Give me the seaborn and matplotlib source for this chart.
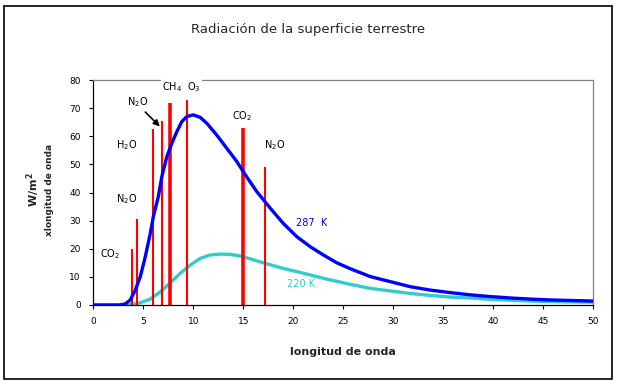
import matplotlib
matplotlib.use("Agg")
import matplotlib.pyplot as plt
import seaborn as sns
import pandas as pd
from matplotlib.patches import Rectangle

# ---- data ----
wl_287 = [0, 2.6, 3.2, 3.7, 4.2, 4.7, 5.2, 5.7, 6.0, 6.5, 6.85, 7.35, 7.85, 8.35, 8.85,
          9.35, 10.0, 10.7, 11.35, 12.35, 13.35, 14.35, 15.35, 16.35, 17.7, 19.0,
          20.35, 21.7, 23.0, 24.35, 25.7, 27.7, 29.7, 31.7, 33.7, 35.7, 37.7, 39.7,
          41.7, 43.7, 45.7, 50]
rad_287 = [0, 0, 0.4, 1.8, 5.3, 10.1, 17.2, 25.5, 31.4, 38.5, 45.6, 52.7, 57.5, 61.6, 65.2,
           67.0, 67.6, 66.7, 64.6, 60.4, 55.7, 51.0, 45.5, 40.3, 34.4, 29.0,
           24.3, 20.7, 17.8, 15.0, 12.9, 10.1, 8.3, 6.5, 5.3, 4.4, 3.6, 3.0,
           2.5, 2.1, 1.8, 1.4]
wl_220 = [0, 3.5, 4.7, 5.7, 6.7, 7.7, 8.7, 9.7, 10.7, 11.7, 12.7, 13.7, 14.7, 15.7, 17.0,
          19.0, 21.0, 23.0, 25.5, 27.7, 29.7, 31.7, 33.7, 35.7, 37.7, 39.7, 41.7, 43.7,
          47, 50]
rad_220 = [0, 0, 0.8, 2.1, 4.7, 7.9, 11.3, 14.2, 16.6, 17.8, 18.1, 18.0, 17.4, 16.4, 15.0,
           13.0, 11.3, 9.5, 7.5, 5.9, 5.0, 4.1, 3.4, 2.8, 2.5, 2.0, 1.7, 1.4,
           1.1, 1.0]
band_pos = [3.9, 4.35, 6.0, 6.9, 7.7, 9.35, 15.0, 17.2]
band_height = [20, 30.5, 62.5, 65.5, 72, 73, 63, 49]
band_width = [1.5, 1.5, 1.5, 1.5, 2.6, 1.5, 2.6, 1.5]

gas_labels = [r"CO$_2$", r"N$_2$O", r"H$_2$O", r"N$_2$O", r"CH$_4$  O$_3$", r"CO$_2$", r"N$_2$O"]
gas_x = [1.7, 3.3, 3.3, 4.4, 8.8, 14.85, 18.1]
gas_y = [18.1, 37.7, 56.9, 72.2, 77.5, 67, 56.9]

sns.set_theme(style="white")
plt.rcParams['font.family'] = ['DejaVu Sans']

fig = plt.figure(figsize=(6.17, 3.85), dpi=100)
ax = fig.add_axes([93.3 / 617, 1 - 305 / 385, 500 / 617, 225 / 385])

# red absorption bands
ax.vlines(band_pos, 0, band_height, colors="#FF0000", linewidths=band_width, zorder=2)

df287 = pd.DataFrame({"x": wl_287, "y": rad_287})
df220 = pd.DataFrame({"x": wl_220, "y": rad_220})
sns.lineplot(data=df220, x="x", y="y", ax=ax, color="#33CCCC", linewidth=2.4, zorder=1)
sns.lineplot(data=df287, x="x", y="y", ax=ax, color="#0000FF", linewidth=2.4, zorder=3)

ax.set_xlim(0, 50)
ax.set_ylim(0, 80)
ax.set_xticks(range(0, 51, 5))
ax.set_yticks(range(0, 81, 10))
ax.tick_params(axis="both", which="both", direction="out", length=3, width=0.8,
               labelsize=6.5, colors="black", bottom=True, left=True, pad=6)
for s in ["left", "bottom"]:
    ax.spines[s].set_color("black")
    ax.spines[s].set_linewidth(0.9)
for s in ["top", "right"]:
    ax.spines[s].set_color("#808080")
    ax.spines[s].set_linewidth(0.9)
ax.set_xlabel("")
ax.set_ylabel("")

# gas labels
for lbl, gx, gy in zip(gas_labels, gas_x, gas_y):
    bbox = None
    if "CH" in lbl:
        bbox = dict(facecolor="white", edgecolor="none", pad=1)
    ax.text(gx, gy, lbl, ha="center", va="center", fontsize=7, color="black",
            zorder=5, bbox=bbox, clip_on=False)

ax.annotate("", xy=(6.85, 62.8), xytext=(5.0, 69.3),
            arrowprops=dict(arrowstyle="-|>", color="black", lw=1.2, mutation_scale=9),
            zorder=6)

ax.text(21.8, 29.3, "287  K", ha="center", va="center", fontsize=7, color="#0000CC")
ax.text(20.8, 7.3, "220 K", ha="center", va="center", fontsize=7, color="#33CCCC")

# titles / labels
fig.text(308 / 617, 1 - 30 / 385, "Radiación de la superficie terrestre",
         ha="center", va="center", fontsize=9.5)
fig.text(343 / 617, 1 - 352 / 385, "longitud de onda", ha="center", va="center",
         fontsize=8, fontweight="bold")
fig.text(33 / 617, 1 - 190 / 385, r"W/m$^\mathbf{2}$", ha="center", va="center",
         fontsize=8, fontweight="bold", rotation=90)
fig.text(50 / 617, 1 - 190 / 385, "xlongitud de onda", ha="center", va="center",
         fontsize=6.5, fontweight="bold", rotation=90)

# outer frame
fig.patches.append(Rectangle((4 / 617, 1 - 379 / 385), 608 / 617, 373 / 385,
                             transform=fig.transFigure, fill=False,
                             edgecolor="black", linewidth=1.2))

fig.savefig("out.png", dpi=100)
